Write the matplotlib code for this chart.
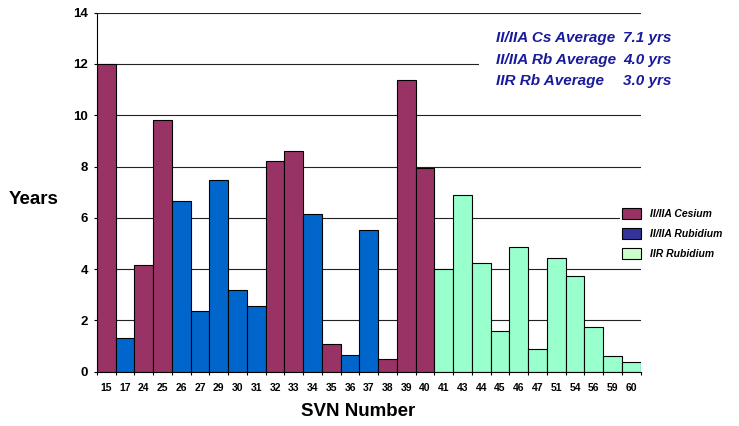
import matplotlib
matplotlib.use('Agg')
import matplotlib.pyplot as plt
import matplotlib as mpl
from matplotlib.patches import Patch, Rectangle
import numpy as np

mpl.rcParams['font.family'] = ['Liberation Sans', 'DejaVu Sans']

# SVN number, lifetime in years, and clock type of each bar
svn = ['15', '17', '24', '25', '26', '27', '29', '30', '31', '32', '33', '34', '35', '36', '37',
       '38', '39', '40', '41', '43', '44', '45', '46', '47', '51', '54', '56', '59', '60']
years = [12.0, 1.30, 4.15, 9.83, 6.67, 2.37, 7.46, 3.20, 2.57, 8.20, 8.59, 6.15, 1.07, 0.64, 5.52,
         0.48, 11.36, 7.93, 3.99, 6.90, 4.22, 1.59, 4.85, 0.87, 4.42, 3.74, 1.73, 0.60, 0.36]
clock = ['Cs', 'Rb', 'Cs', 'Cs', 'Rb', 'Rb', 'Rb', 'Rb', 'Rb', 'Cs', 'Cs', 'Rb', 'Cs', 'Rb', 'Rb',
         'Cs', 'Cs', 'Cs', 'IIR', 'IIR', 'IIR', 'IIR', 'IIR', 'IIR', 'IIR', 'IIR', 'IIR', 'IIR', 'IIR']

legend_labels = ['II/IIA Cesium', 'II/IIA Rubidium', 'IIR Rubidium']
avg_names = ['II/IIA Cs Average', 'II/IIA Rb Average', 'IIR Rb Average']
avg_values = ['7.1 yrs', '4.0 yrs', '3.0 yrs']

bar_col = {'Cs': '#993366', 'Rb': '#0066CC', 'IIR': '#99FFCC'}
leg_col = ['#993366', '#333399', '#CCFFCC']
txt_blue = '#1A1A9C'

fig = plt.figure(figsize=(7.39, 4.26), dpi=100)
ax = fig.add_axes([97/739, 1-371.7/426, (640.7-97)/739, (371.7-12.7)/426])

x = np.arange(len(svn))
ax.bar(x, years, width=1.0, color=[bar_col[c] for c in clock],
       edgecolor='black', linewidth=0.8, zorder=2)

ax.set_xlim(-0.5, len(svn) - 0.5)
ax.set_ylim(0, 14)
ax.set_yticks(np.arange(0, 15, 2))
ax.set_xticks(x)
ax.set_xticklabels(svn)
ax.set_xticks(np.arange(-0.5, len(svn), 1.0), minor=True)
ax.tick_params(axis='x', which='major', length=0, pad=8, labelsize=7.5)
ax.tick_params(axis='x', which='minor', length=2.5, width=0.8)
ax.tick_params(axis='y', length=2.5, width=0.8, pad=4, labelsize=9.5)
for lab in ax.get_xticklabels() + ax.get_yticklabels():
    lab.set_fontweight('bold')

ax.set_axisbelow(True)
ax.yaxis.grid(True, color='#222222', linewidth=0.8)
for s in ['top', 'right']:
    ax.spines[s].set_visible(False)
ax.spines['left'].set_linewidth(0.8)
ax.spines['bottom'].set_linewidth(0.8)

# white box behind the averages text
box = Rectangle((479/739, 1-100/426), 260/739, 75/426, transform=fig.transFigure,
                facecolor='white', edgecolor='none', zorder=1, clip_on=False)
ax.add_patch(box)

for i, (nm, val) in enumerate(zip(avg_names, avg_values)):
    yy = 1 - [38, 60, 81][i]/426
    fig.text(496/739, yy, nm, color=txt_blue, fontsize=11, fontweight='bold',
             fontstyle='italic', va='center', ha='left')
    fig.text(623/739, yy, val, color=txt_blue, fontsize=11, fontweight='bold',
             fontstyle='italic', va='center', ha='left')

handles = [Patch(facecolor=c, edgecolor='black', linewidth=0.8) for c in leg_col]
leg = fig.legend(handles, legend_labels, loc='upper left',
                 bbox_to_anchor=(620/739, 1-206/426),
                 prop={'weight': 'bold', 'style': 'italic', 'size': 7.5},
                 handlelength=1.8, handleheight=1.25, handletextpad=0.85,
                 labelspacing=0.85, borderpad=0.2, borderaxespad=0,
                 frameon=True, fancybox=False)
leg.get_frame().set_facecolor('white')
leg.get_frame().set_edgecolor('none')
leg.get_frame().set_alpha(1)

fig.text(34/739, 1-200/426, 'Years', fontsize=13.5, fontweight='bold', ha='center', va='center')
fig.text(358/739, 1-412/426, 'SVN Number', fontsize=13.5, fontweight='bold', ha='center', va='center')

fig.savefig('out.png', dpi=100)
